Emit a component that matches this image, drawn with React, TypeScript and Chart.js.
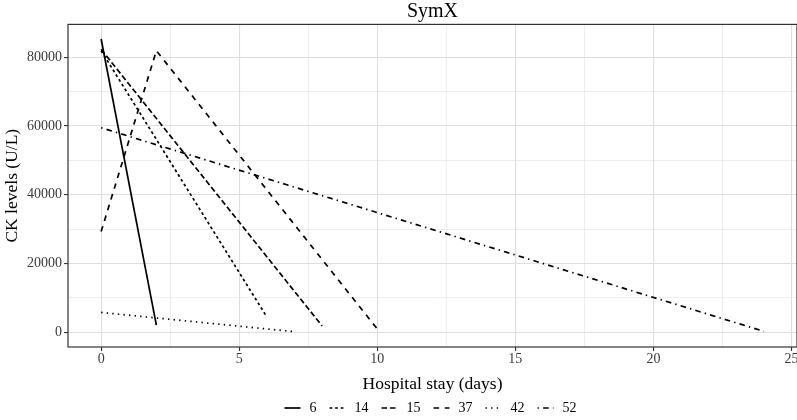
import React, { useEffect, useRef } from "react";
import { Chart, registerables } from "chart.js";

Chart.register(...registerables);

// ---- data ----
const seriesLabels = ["6", "14", "15", "37", "42", "52"];
const seriesDays: number[][] = [
  [0, 2],
  [0, 6],
  [0, 8],
  [0, 2, 10],
  [0, 7],
  [0, 24],
];
const seriesCK: number[][] = [
  [85300, 2100],
  [81900, 4500],
  [82300, 1900],
  [29300, 81900, 1000],
  [5800, 200],
  [59500, 300],
];
const xTickValues = [0, 5, 10, 15, 20, 25];
const yTickValues = [0, 20000, 40000, 60000, 80000];

const chartTitle = "SymX";
const xTitle = "Hospital stay (days)";
const yTitle = "CK levels (U/L)";

// ---- styles ----
const SERIF = '"Liberation Serif", "Times New Roman", serif';
const LINE_W = 1.7;
const U = 1.4;
const dashes: number[][] = [
  [],
  [2 * U, 2 * U],
  [4 * U, 2 * U],
  [4 * U, 4 * U],
  [1 * U, 3 * U],
  [1 * U, 3 * U, 4 * U, 3 * U],
];

function withMinor(major: number[]): number[] {
  const out: number[] = [];
  for (let i = 0; i < major.length; i++) {
    out.push(major[i]);
    if (i < major.length - 1) out.push((major[i] + major[i + 1]) / 2);
  }
  return out;
}

const panelBorder = {
  id: "panelBorder",
  afterDatasetsDraw(chart: any) {
    const { ctx, chartArea } = chart;
    ctx.save();
    ctx.strokeStyle = "#333333";
    ctx.lineWidth = 1.2;
    ctx.setLineDash([]);
    ctx.strokeRect(chartArea.left, chartArea.top, chartArea.right - chartArea.left, chartArea.bottom - chartArea.top);
    ctx.restore();
  },
};

const ggLegend = {
  id: "ggLegend",
  afterDraw(chart: any) {
    const ctx = chart.ctx;
    ctx.save();
    ctx.font = `14px ${SERIF}`;
    const keyW = 16;
    const gapKT = 9;
    const gapItem = 13;
    const items = chart.data.datasets.map((ds: any) => ({
      label: ds.label,
      dash: ds.borderDash || [],
      w: ctx.measureText(ds.label).width,
    }));
    const total =
      items.reduce((s: number, it: any) => s + keyW + gapKT + it.w, 0) + gapItem * (items.length - 1);
    const cx = (chart.chartArea.left + chart.chartArea.right) / 2 - 2;
    let x = cx - total / 2;
    const y = 408;
    for (const it of items) {
      ctx.strokeStyle = "#000";
      ctx.lineWidth = LINE_W;
      ctx.setLineDash(it.dash);
      ctx.beginPath();
      ctx.moveTo(x, y);
      ctx.lineTo(x + keyW, y);
      ctx.stroke();
      ctx.setLineDash([]);
      ctx.fillStyle = "#000";
      ctx.textAlign = "left";
      ctx.textBaseline = "middle";
      ctx.fillText(it.label, x + keyW + gapKT, y);
      x += keyW + gapKT + it.w + gapItem;
    }
    ctx.restore();
  },
};

export default function App() {
  const canvasRef = useRef<HTMLCanvasElement | null>(null);

  useEffect(() => {
    if (!canvasRef.current) return;
    const xAll = withMinor(xTickValues);
    const yAll = withMinor(yTickValues);
    const isXMajor = (v: number) => xTickValues.includes(v);
    const isYMajor = (v: number) => yTickValues.includes(v);

    const datasets = seriesLabels.map((label, i) => ({
      label,
      data: seriesDays[i].map((d, j) => ({ x: d, y: seriesCK[i][j] })),
      borderColor: "#000000",
      backgroundColor: "#000000",
      borderWidth: LINE_W,
      borderDash: dashes[i],
      pointRadius: 0,
      fill: false,
      tension: 0,
    }));

    const chart = new Chart(canvasRef.current, {
      type: "line",
      data: { datasets },
      plugins: [panelBorder, ggLegend],
      options: {
        animation: false,
        responsive: false,
        devicePixelRatio: 1,
        layout: { padding: { left: 0, right: 0, top: 0, bottom: 0 } },
        plugins: {
          legend: { display: false },
          tooltip: { enabled: false },
          title: {
            display: true,
            text: chartTitle,
            fullSize: false,
            color: "#000",
            font: { family: SERIF, size: 20, weight: "normal", lineHeight: 1 },
            padding: { top: 2, bottom: 2.4 },
          },
        },
        scales: {
          x: {
            type: "linear",
            min: -1.2,
            max: 25.2,
            afterBuildTicks: (s: any) => {
              s.ticks = xAll.map((v) => ({ value: v }));
            },
            afterFit: (s: any) => {
              s.height = 73;
              s.paddingLeft = 0;
              s.paddingRight = 0;
            },
            ticks: {
              autoSkip: false,
              maxRotation: 0,
              padding: 0,
              color: "#3A3A3A",
              font: { family: SERIF, size: 14 },
              callback: (v: any) => (isXMajor(Number(v)) ? String(v) : ""),
            },
            grid: {
              color: "#DEDEDE",
              lineWidth: (c: any) => (c.tick && isXMajor(c.tick.value) ? 1.1 : 0.55),
              drawTicks: true,
              tickLength: 4,
              tickWidth: 1.1,
              tickColor: (c: any) => (c.tick && isXMajor(c.tick.value) ? "#333333" : "rgba(0,0,0,0)"),
            },
            border: { display: false },
            title: {
              display: true,
              text: xTitle,
              color: "#000",
              font: { family: SERIF, size: 17.5, lineHeight: 1.2 },
              padding: { top: 0, bottom: 25.5 },
            },
          },
          y: {
            type: "linear",
            min: -4250,
            max: 89550,
            afterBuildTicks: (s: any) => {
              s.ticks = yAll.map((v) => ({ value: v }));
            },
            afterFit: (s: any) => {
              s.width = 68;
              s.paddingTop = 0;
              s.paddingBottom = 0;
            },
            ticks: {
              autoSkip: false,
              padding: 2,
              color: "#3A3A3A",
              font: { family: SERIF, size: 14 },
              callback: (v: any) => (isYMajor(Number(v)) ? String(v) : ""),
            },
            grid: {
              color: "#DEDEDE",
              lineWidth: (c: any) => (c.tick && isYMajor(c.tick.value) ? 1.1 : 0.55),
              drawTicks: true,
              tickLength: 4,
              tickWidth: 1.1,
              tickColor: (c: any) => (c.tick && isYMajor(c.tick.value) ? "#333333" : "rgba(0,0,0,0)"),
            },
            border: { display: false },
            title: {
              display: true,
              text: yTitle,
              color: "#000",
              font: { family: SERIF, size: 17.5, lineHeight: 1.2 },
              padding: { top: 1.5, bottom: 0 },
            },
          },
        },
      },
    } as any);

    return () => chart.destroy();
  }, []);

  return (
    <div style={{ position: "absolute", left: 0, top: 0, width: 797, height: 420, background: "#fff" }}>
      <canvas ref={canvasRef} width={797} height={420} />
    </div>
  );
}
